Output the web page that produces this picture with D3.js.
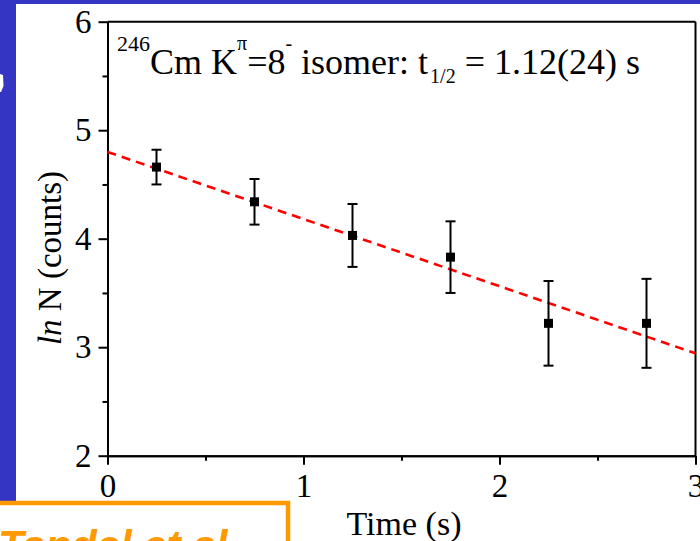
<!DOCTYPE html>
<html>
<head>
<meta charset="utf-8">
<script src="https://cdn.jsdelivr.net/npm/d3@7"></script>
<style>
  html, body { margin: 0; padding: 0; background: #fff; }
  svg { display: block; }
</style>
</head>
<body>
<svg id="chart" width="700" height="541"></svg>
<script>
// Decay curve of the 246Cm K=8- isomer: ln of counts per time bin
const times     = [0.25, 0.75, 1.25, 1.75, 2.25, 2.75];   // s, bin centres
const lnCounts  = [4.66, 4.34, 4.03, 3.83, 3.22, 3.22];
const lnErrors  = [0.16, 0.21, 0.29, 0.33, 0.39, 0.41];

const xMajorTicks = [0, 1, 2, 3];
const xMinorTicks = [0.5, 1.5, 2.5];
const yMajorTicks = [2, 3, 4, 5, 6];
const yMinorTicks = [2.5, 3.5, 4.5, 5.5];

// Exponential fit: ln N = a - (ln2 / t_half) * t
const halfLife = 1.12;
const fitIntercept = 4.80;
const fitSlope = -Math.LN2 / halfLife;

const svg = d3.select("#chart");
const serif = "'Liberation Serif', 'Times New Roman', serif";
const blue = "#3535c4";
const orange = "#ff9900";

// slide background
svg.append("rect").attr("width", 700).attr("height", 541).attr("fill", "#fff");
svg.append("rect").attr("x", 0).attr("y", 0).attr("width", 700).attr("height", 4).attr("fill", blue);
svg.append("rect").attr("x", 0).attr("y", 0).attr("width", 16).attr("height", 501).attr("fill", blue);
// edge of a slide glyph on the blue margin
svg.append("path").attr("d", "M0,74 L3,75 L3.5,86 L1,92 L0,92 Z").attr("fill", "#fff");

const x = d3.scaleLinear().domain([0, 3]).range([107.5, 695.5]);
const y = d3.scaleLinear().domain([2, 6]).range([455.7, 21.7]);

const plot = svg.append("g");

// frame: top and right edges
plot.append("line")
  .attr("x1", x(0)).attr("x2", x(3)).attr("y1", y(6)).attr("y2", y(6))
  .attr("stroke", "#000").attr("stroke-width", 2);
plot.append("line")
  .attr("x1", x(3)).attr("x2", x(3)).attr("y1", y(6)).attr("y2", y(2))
  .attr("stroke", "#000").attr("stroke-width", 2);

function styleAxis(g) {
  g.attr("font-family", serif).attr("font-size", 33);
  g.select(".domain").attr("stroke", "#000").attr("stroke-width", 2);
  g.selectAll(".tick line").attr("stroke", "#000").attr("stroke-width", 2);
  g.selectAll(".tick text").attr("fill", "#000")
    .style("font-family", serif).style("font-size", "33px");
}

// x axis
const xAxisG = plot.append("g").attr("transform", `translate(0,${y(2)})`);
xAxisG.call(d3.axisBottom(x).tickValues(xMajorTicks).tickFormat(d3.format("d"))
  .tickSize(9).tickSizeOuter(0).tickPadding(9));
styleAxis(xAxisG);
const xMinorG = plot.append("g").attr("transform", `translate(0,${y(2)})`);
xMinorG.call(d3.axisBottom(x).tickValues(xMinorTicks).tickFormat("").tickSize(5).tickSizeOuter(0));
styleAxis(xMinorG);

// y axis
const yAxisG = plot.append("g").attr("transform", `translate(${x(0)},0)`);
yAxisG.call(d3.axisLeft(y).tickValues(yMajorTicks).tickFormat(d3.format("d"))
  .tickSize(9).tickSizeOuter(0).tickPadding(7));
styleAxis(yAxisG);
const yMinorG = plot.append("g").attr("transform", `translate(${x(0)},0)`);
yMinorG.call(d3.axisLeft(y).tickValues(yMinorTicks).tickFormat("").tickSize(5).tickSizeOuter(0));
styleAxis(yMinorG);

// fit line
plot.append("line")
  .attr("x1", x(0)).attr("y1", y(fitIntercept))
  .attr("x2", x(3)).attr("y2", y(fitIntercept + fitSlope * 3))
  .attr("stroke", "#ff0000").attr("stroke-width", 2.6)
  .attr("stroke-dasharray", "9,6");

// error bars and points
const pts = times.map((t, i) => ({ t, v: lnCounts[i], e: lnErrors[i] }));
const bars = plot.append("g").selectAll("g").data(pts).join("g");
bars.append("line")
  .attr("x1", d => x(d.t)).attr("x2", d => x(d.t))
  .attr("y1", d => y(d.v + d.e)).attr("y2", d => y(d.v - d.e))
  .attr("stroke", "#000").attr("stroke-width", 2);
bars.append("line")
  .attr("x1", d => x(d.t) - 5).attr("x2", d => x(d.t) + 5)
  .attr("y1", d => y(d.v + d.e)).attr("y2", d => y(d.v + d.e))
  .attr("stroke", "#000").attr("stroke-width", 2);
bars.append("line")
  .attr("x1", d => x(d.t) - 5).attr("x2", d => x(d.t) + 5)
  .attr("y1", d => y(d.v - d.e)).attr("y2", d => y(d.v - d.e))
  .attr("stroke", "#000").attr("stroke-width", 2);
bars.append("rect")
  .attr("x", d => x(d.t) - 4.5).attr("y", d => y(d.v) - 4.5)
  .attr("width", 9).attr("height", 9).attr("fill", "#000");

// annotation inside the frame
const title = svg.append("text")
  .attr("x", 117).attr("y", 74)
  .style("font-family", serif).style("font-size", "36px").attr("fill", "#000");
title.append("tspan").attr("dy", -23).style("font-size", "22px").text("246");
title.append("tspan").attr("dy", 23).text("Cm K");
title.append("tspan").attr("dy", -24).style("font-size", "20px").text("π");
title.append("tspan").attr("dy", 24).text("=8");
title.append("tspan").attr("dy", -24).style("font-size", "20px").text("-");
title.append("tspan").attr("dy", 24).text(" isomer: t");
title.append("tspan").attr("dy", 9).attr("dx", 2).style("font-size", "20px").text("1/2");
title.append("tspan").attr("dy", -9).text(" = 1.12(24) s");

// axis titles
const yTitle = svg.append("text")
  .attr("transform", "translate(61,258) rotate(-90)")
  .attr("text-anchor", "middle")
  .style("font-family", serif).style("font-size", "33px").attr("fill", "#000");
yTitle.append("tspan").style("font-style", "italic").text("ln");
yTitle.append("tspan").text(" N (counts)");

svg.append("text")
  .attr("x", 404).attr("y", 535).attr("text-anchor", "middle")
  .style("font-family", serif).style("font-size", "34px").attr("fill", "#000")
  .text("Time (s)");

// reference box at the lower left
svg.append("rect")
  .attr("x", -10).attr("y", 503).attr("width", 298).attr("height", 60)
  .attr("fill", "#fff").attr("stroke", orange).attr("stroke-width", 4.5);
svg.append("text")
  .attr("x", -2).attr("y", 560)
  .style("font-family", "'Liberation Sans', Arial, sans-serif")
  .style("font-size", "42px").style("font-weight", "bold").style("font-style", "italic")
  .attr("fill", orange)
  .text("Tandel et al.");
</script>
</body>
</html>
